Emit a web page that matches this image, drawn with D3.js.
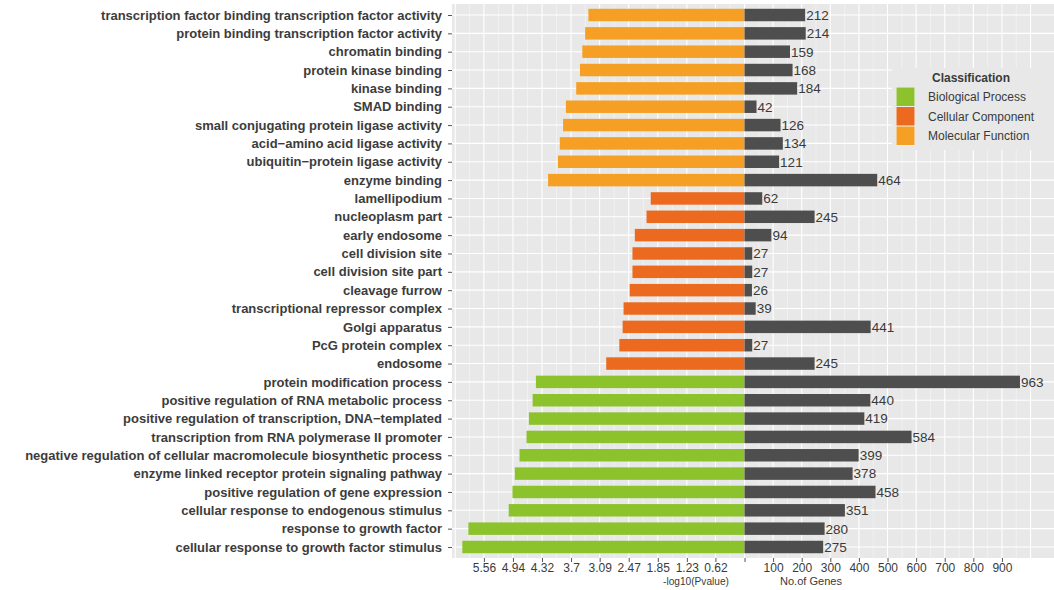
<!DOCTYPE html>
<html>
<head>
<meta charset="utf-8">
<script src="https://cdn.jsdelivr.net/npm/d3@7"></script>
<style>
  html, body { margin: 0; padding: 0; background: #ffffff; }
  svg { display: block; font-family: "Liberation Sans", Arial, sans-serif; }
</style>
</head>
<body>
<svg id="chart" width="1054" height="590"></svg>
<script>
// GO terms, top to bottom
const terms = [
  "transcription factor binding transcription factor activity",
  "protein binding transcription factor activity",
  "chromatin binding",
  "protein kinase binding",
  "kinase binding",
  "SMAD binding",
  "small conjugating protein ligase activity",
  "acid\u2212amino acid ligase activity",
  "ubiquitin\u2212protein ligase activity",
  "enzyme binding",
  "lamellipodium",
  "nucleoplasm part",
  "early endosome",
  "cell division site",
  "cell division site part",
  "cleavage furrow",
  "transcriptional repressor complex",
  "Golgi apparatus",
  "PcG protein complex",
  "endosome",
  "protein modification process",
  "positive regulation of RNA metabolic process",
  "positive regulation of transcription, DNA\u2212templated",
  "transcription from RNA polymerase II promoter",
  "negative regulation of cellular macromolecule biosynthetic process",
  "enzyme linked receptor protein signaling pathway",
  "positive regulation of gene expression",
  "cellular response to endogenous stimulus",
  "response to growth factor",
  "cellular response to growth factor stimulus"
];

const termClass = [
  "Molecular Function", "Molecular Function", "Molecular Function", "Molecular Function", "Molecular Function",
  "Molecular Function", "Molecular Function", "Molecular Function", "Molecular Function", "Molecular Function",
  "Cellular Component", "Cellular Component", "Cellular Component", "Cellular Component", "Cellular Component",
  "Cellular Component", "Cellular Component", "Cellular Component", "Cellular Component", "Cellular Component",
  "Biological Process", "Biological Process", "Biological Process", "Biological Process", "Biological Process",
  "Biological Process", "Biological Process", "Biological Process", "Biological Process", "Biological Process"
];

// -log10(P value) per term
const negLogP = [
  3.33, 3.40, 3.46, 3.51, 3.59, 3.81, 3.87, 3.94, 3.98, 4.19,
  2.00, 2.09, 2.34, 2.39, 2.39, 2.45, 2.58, 2.60, 2.67, 2.95,
  4.45, 4.52, 4.60, 4.65, 4.80, 4.90, 4.95, 5.03, 5.89, 6.02
];

// number of genes per term
const geneCounts = [
  212, 214, 159, 168, 184, 42, 126, 134, 121, 464,
  62, 245, 94, 27, 27, 26, 39, 441, 27, 245,
  963, 440, 419, 584, 399, 378, 458, 351, 280, 275
];

const pTicks = [0.62, 1.23, 1.85, 2.47, 3.09, 3.7, 4.32, 4.94, 5.56];
const geneTicks = [100, 200, 300, 400, 500, 600, 700, 800, 900];

const classNames = ["Biological Process", "Cellular Component", "Molecular Function"];
const classColors = ["#8cc22c", "#ec6a1f", "#f5a024"];

// ---- layout ----
const panel = { left: 452, right: 1054, top: 4, bottom: 558 };
const zeroX = 744.5;
const gridCol = "#ffffff";
const panelFill = "#e8e8e8";
const geneFill = "#4e4e4e";

const svg = d3.select("#chart");

const xP = d3.scaleLinear().domain([0, 6.24]).range([zeroX, panel.left]);
const xG = d3.scaleLinear().domain([0, 1082]).range([zeroX, panel.right]);
const y = d3.scalePoint().domain(terms).range([panel.top, panel.bottom]).padding(0.6);
const barH = y.step() * 0.68;
const color = d3.scaleOrdinal().domain(classNames).range(classColors);

const rows = terms.map((t, i) => ({ term: t, cls: termClass[i], p: negLogP[i], n: geneCounts[i] }));

// panel background
svg.append("rect")
  .attr("x", panel.left).attr("y", panel.top)
  .attr("width", panel.right - panel.left).attr("height", panel.bottom - panel.top)
  .attr("fill", panelFill);

const grid = svg.append("g");

// minor vertical grid lines (halfway between breaks)
const pBreaks = [0].concat(pTicks).concat([6.17]);
const gBreaks = [0].concat(geneTicks).concat([1000]);
const mids = a => a.slice(0, -1).map((v, i) => (v + a[i + 1]) / 2);
grid.selectAll("line.pminor").data(mids(pBreaks)).join("line")
  .attr("x1", d => xP(d)).attr("x2", d => xP(d))
  .attr("y1", panel.top).attr("y2", panel.bottom)
  .attr("stroke", gridCol).attr("stroke-width", 0.5).attr("stroke-opacity", 0.8);
grid.selectAll("line.gminor").data(mids(gBreaks)).join("line")
  .attr("x1", d => xG(d)).attr("x2", d => xG(d))
  .attr("y1", panel.top).attr("y2", panel.bottom)
  .attr("stroke", gridCol).attr("stroke-width", 0.5).attr("stroke-opacity", 0.8);

// major vertical grid lines
grid.selectAll("line.pmajor").data(pBreaks).join("line")
  .attr("x1", d => xP(d)).attr("x2", d => xP(d))
  .attr("y1", panel.top).attr("y2", panel.bottom)
  .attr("stroke", gridCol).attr("stroke-width", 1.1);
grid.selectAll("line.gmajor").data(gBreaks.slice(1)).join("line")
  .attr("x1", d => xG(d)).attr("x2", d => xG(d))
  .attr("y1", panel.top).attr("y2", panel.bottom)
  .attr("stroke", gridCol).attr("stroke-width", 1.1);

// horizontal grid lines at each term
grid.selectAll("line.h").data(terms).join("line")
  .attr("x1", panel.left).attr("x2", panel.right)
  .attr("y1", d => y(d)).attr("y2", d => y(d))
  .attr("stroke", gridCol).attr("stroke-width", 1.1);

// significance bars (left)
svg.append("g").selectAll("rect").data(rows).join("rect")
  .attr("x", d => xP(d.p))
  .attr("y", d => y(d.term) - barH / 2)
  .attr("width", d => xP(0) - xP(d.p))
  .attr("height", barH)
  .attr("fill", d => color(d.cls));

// gene count bars (right)
svg.append("g").selectAll("rect").data(rows).join("rect")
  .attr("x", xG(0))
  .attr("y", d => y(d.term) - barH / 2)
  .attr("width", d => xG(d.n) - xG(0))
  .attr("height", barH)
  .attr("fill", geneFill);

// gene count labels
svg.append("g").selectAll("text").data(rows).join("text")
  .attr("x", d => xG(d.n) + 1)
  .attr("y", d => y(d.term))
  .attr("dy", "0.36em")
  .attr("font-size", 13.5)
  .attr("fill", "#3a3a3a")
  .text(d => d.n);

// y axis
const yAxis = svg.append("g")
  .attr("transform", `translate(${panel.left},0)`)
  .call(d3.axisLeft(y).tickSize(4).tickPadding(6));
yAxis.select(".domain").remove();
yAxis.selectAll(".tick line").attr("stroke", "#555");
yAxis.selectAll(".tick text")
  .attr("font-size", 13)
  .attr("font-weight", "bold")
  .attr("font-family", "Liberation Sans, Arial, sans-serif")
  .attr("fill", "#3c3c3c");

// x axes
const axisP = svg.append("g")
  .attr("transform", `translate(0,${panel.bottom})`)
  .call(d3.axisBottom(xP).tickValues([0].concat(pTicks)).tickSize(4).tickPadding(1)
    .tickFormat(d => d === 0 ? "" : String(d)));
const axisG = svg.append("g")
  .attr("transform", `translate(0,${panel.bottom})`)
  .call(d3.axisBottom(xG).tickValues(geneTicks).tickSize(4).tickPadding(1));
[axisP, axisG].forEach(a => {
  a.select(".domain").remove();
  a.selectAll(".tick line").attr("stroke", "#555");
  a.selectAll(".tick text")
    .attr("font-size", 12)
    .attr("font-family", "Liberation Sans, Arial, sans-serif")
    .attr("fill", "#3a3a3a");
});

// axis titles
svg.append("text")
  .attr("x", 696).attr("y", 585)
  .attr("text-anchor", "middle")
  .attr("font-size", 11.5)
  .attr("fill", "#3a3a3a")
  .attr("textLength", 66).attr("lengthAdjust", "spacingAndGlyphs")
  .text("-log10(Pvalue)");
svg.append("text")
  .attr("x", 811).attr("y", 585)
  .attr("text-anchor", "middle")
  .attr("font-size", 11.5)
  .attr("fill", "#3a3a3a")
  .attr("textLength", 62).attr("lengthAdjust", "spacingAndGlyphs")
  .text("No.of Genes");

// legend
const legend = svg.append("g").attr("transform", "translate(892,68)");
legend.append("rect")
  .attr("x", 0).attr("y", 0).attr("width", 162).attr("height", 82)
  .attr("fill", panelFill);
legend.append("text")
  .attr("x", 40).attr("y", 14)
  .attr("font-size", 12).attr("font-weight", "bold")
  .attr("fill", "#3a3a3a")
  .text("Classification");
const keys = legend.selectAll("g.key").data(classNames).join("g")
  .attr("transform", (d, i) => `translate(4,${19 + i * 19.5})`);
keys.append("rect")
  .attr("width", 19).attr("height", 19.5)
  .attr("fill", "#f2f2f2");
keys.append("rect")
  .attr("x", 0.5).attr("y", 0.5).attr("width", 18).attr("height", 18.5)
  .attr("fill", d => color(d));
keys.append("text")
  .attr("x", 32).attr("y", 10)
  .attr("dy", "0.35em")
  .attr("font-size", 12)
  .attr("fill", "#3a3a3a")
  .text(d => d);
</script>
</body>
</html>
